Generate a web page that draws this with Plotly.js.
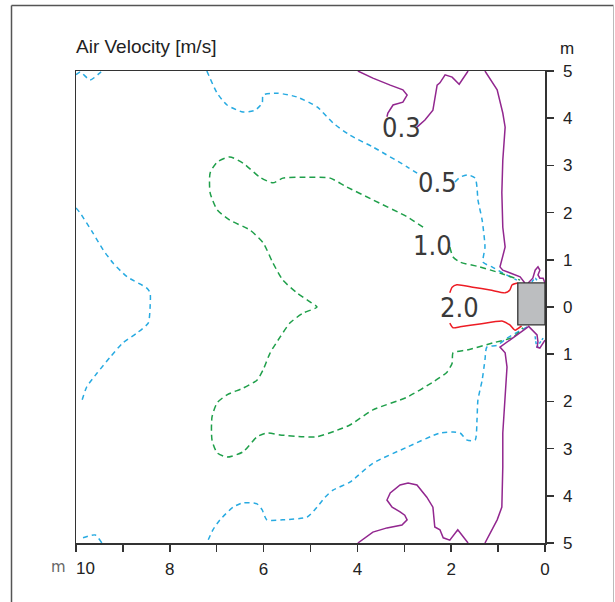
<!DOCTYPE html>
<html>
<head>
<meta charset="utf-8">
<script src="https://cdn.plot.ly/plotly-3.0.1.min.js"></script>
<style>html,body{margin:0;padding:0;background:#fff;}#chart{width:615px;height:602px;}</style>
</head>
<body>
<div id="chart"></div>
<script>
// ---- Data (metres; x = distance from outlet, y = lateral offset) ----
const xTickVals = [0,1,2,3,4,5,6,7,8,9,10];
const xTickText = ['0','','2','','4','','6','','8','',''];
const xEdgeLabel = '10';
const yTickVals = [-5,-4,-3,-2,-1,0,1,2,3,4,5];
const yTickText = ['5','4','3','2','1','0','1','2','3','4','5'];

const levelLabels = ['0.3','0.5','1.0','2.0'];
const labelX = [3.07, 2.30, 2.39, 1.83];
const labelY = [3.81, 2.63, 1.31, -0.02];

// 0.3 m/s (solid purple)
const v03aX = [3.99,3.67,3.30,3.03,2.94,3.03,3.24,3.35,3.37];
const v03aY = [5.0,4.85,4.70,4.60,4.49,4.34,4.28,4.11,4.03];
const v03bX = [2.73,2.56,2.39,2.35,2.30,2.24,2.13,1.98,1.83,1.64];
const v03bY = [3.81,3.96,4.17,4.45,4.70,4.75,4.92,4.87,4.72,5.0];
const v03cX = [1.28,1.02,0.90,0.85,0.90,0.92,0.90,0.85,0.96,0.90,0.53,0.43];
const v03cY = [5.0,4.60,4.11,3.81,3.11,2.42,1.69,1.27,0.85,0.78,0.64,0.51];
const v03dX = [0.36,0.26,0.21,0.15,0.11,0.15,0.11,0.04,0.0];
const v03dY = [0.51,0.61,0.78,0.85,0.78,0.68,0.61,0.61,0.51];
const v03eX = [0.36,0.53,0.75,0.96,0.85,0.81,0.85,0.90,0.90,0.92,1.02,1.17,1.28];
const v03eY = [-0.42,-0.55,-0.70,-0.85,-0.97,-1.27,-1.97,-2.67,-3.39,-4.24,-4.51,-4.79,-5.0];
const v03fX = [0.36,0.26,0.17,0.15,0.17,0.11,0.04,0.0];
const v03fY = [-0.40,-0.49,-0.59,-0.74,-0.85,-0.87,-0.76,-0.70];
const v03gX = [1.64,1.75,1.86,2.03,2.17,2.24,2.35,2.39,2.52,2.73,2.92,3.09,3.30,3.37,3.26,3.09,2.99,2.94,3.05,3.37,3.67,3.99];
const v03gY = [-5.0,-4.87,-4.72,-4.94,-4.89,-4.72,-4.66,-4.24,-4.03,-3.77,-3.73,-3.77,-3.94,-4.09,-4.24,-4.34,-4.41,-4.51,-4.62,-4.68,-4.77,-5.0];

// 0.5 m/s (dashed cyan)
const v05aX = [10.0,9.91,9.70,9.49,9.45];
const v05aY = [4.92,4.98,4.81,4.96,5.0];
const v05bX = [7.21,6.99,6.78,6.44,6.18,6.03,6.01,5.71,5.29,4.86,4.52,4.16,3.67,2.94,2.67];
const v05bY = [5.0,4.53,4.28,4.13,4.17,4.32,4.49,4.53,4.45,4.24,3.90,3.64,3.39,2.97,2.80];
const v05cX = [1.92,1.81,1.64,1.49,1.45,1.43,1.34,1.28,1.32,1.13,0.90,0.60];
const v05cY = [2.65,2.75,2.80,2.73,2.54,2.27,1.84,1.27,0.95,0.85,0.72,0.57];
const v05dX = [0.28,0.21,0.15];
const v05dY = [0.53,0.61,0.53];
const v05eX = [0.38,0.81,1.02,1.24,1.28,1.34,1.43,1.45,1.49,1.66,1.81,1.96,2.24,2.94,3.67,4.16,4.52,4.69,4.86,5.07,5.59,5.93,6.03,6.14,6.44,6.65,6.93,7.08,7.21];
const v05eY = [-0.42,-0.66,-0.81,-0.85,-1.12,-1.55,-1.97,-2.39,-2.82,-2.82,-2.67,-2.65,-2.67,-2.97,-3.31,-3.71,-3.88,-4.03,-4.24,-4.45,-4.51,-4.51,-4.30,-4.17,-4.15,-4.24,-4.51,-4.72,-5.0];
const v05fX = [0.21,0.17,0.11,0.04];
const v05fY = [-0.62,-0.85,-0.76,-0.66];
const v05gX = [9.85,9.59,9.45];
const v05gY = [-4.89,-4.83,-5.0];
const v05hX = [10.0,9.91,9.64,9.42,9.21,8.91,8.49,8.42,8.42,8.46,8.70,9.00,9.27,9.55,9.77,9.87];
const v05hY = [2.10,1.99,1.57,1.21,0.93,0.64,0.40,0.30,0.0,-0.34,-0.55,-0.76,-1.06,-1.40,-1.69,-1.97];

// 1.0 m/s (dashed green)
const v10aX = [2.60,2.94,3.67,4.26,4.58,5.16,5.59,5.80,6.08,6.44,6.72,6.99,7.14,7.14,6.99,6.72,6.29,6.01,5.80,5.59,5.29,5.01,4.86,5.16,5.44,5.65,5.86,6.01,6.14,6.44,6.78,6.99,7.10,7.10,6.99,6.78,6.44,6.14,5.93,5.65,5.16,4.86,4.43,4.16,3.67,2.94,2.39,2.09,1.98,1.96,1.66,1.11,0.68,0.47];
const v10aY = [1.69,1.91,2.27,2.56,2.73,2.75,2.73,2.63,2.75,3.05,3.18,3.07,2.84,2.42,2.06,1.84,1.63,1.36,0.93,0.57,0.30,0.11,0.0,-0.13,-0.34,-0.64,-0.97,-1.33,-1.55,-1.72,-1.86,-2.03,-2.33,-2.82,-3.09,-3.18,-3.07,-2.75,-2.67,-2.71,-2.75,-2.75,-2.61,-2.50,-2.18,-1.91,-1.59,-1.38,-1.19,-0.97,-0.91,-0.76,-0.64,-0.44];
const v10bX = [2.03,1.96,1.81,1.39,0.96,0.53];
const v10bY = [1.27,1.06,0.95,0.85,0.72,0.57];

// 2.0 m/s (solid red)
const v20aX = [2.03,1.98,1.88,1.54,1.17,0.85,0.75,0.70,0.58];
const v20aY = [0.30,0.42,0.47,0.42,0.36,0.30,0.36,0.47,0.51];
const v20bX = [2.03,1.96,1.81,1.39,0.90,0.75,0.64,0.50];
const v20bY = [-0.34,-0.44,-0.42,-0.36,-0.30,-0.38,-0.49,-0.40];

// Air outlet (grey box)
const outletX = [0,0.58,0.58,0,0];
const outletY = [0.51,0.51,-0.38,-0.38,0.51];

// ---- Styles ----
const PURPLE = '#92278F', CYAN = '#27AAE1', GREEN = '#1F9F4A', RED = '#ED1C24';
function seg(x, y, color, dash, shape) {
  return {x: x, y: y, type: 'scatter', mode: 'lines', hoverinfo: 'skip', showlegend: false,
    line: {color: color, width: 1.5, dash: dash || 'solid', shape: shape || 'linear', smoothing: 0.6}};
}
const traces = [
  seg(v05aX, v05aY, CYAN, '5px,4px', 'spline'),
  seg(v05bX, v05bY, CYAN, '5px,4px', 'spline'),
  seg(v05cX, v05cY, CYAN, '5px,4px', 'spline'),
  seg(v05dX, v05dY, CYAN, '3px,2px', 'spline'),
  seg(v05eX, v05eY, CYAN, '5px,4px', 'spline'),
  seg(v05fX, v05fY, CYAN, '3px,2px', 'spline'),
  seg(v05gX, v05gY, CYAN, '5px,4px', 'spline'),
  seg(v05hX, v05hY, CYAN, '5px,4px', 'spline'),
  seg(v10aX, v10aY, GREEN, '6px,4px', 'spline'),
  seg(v10bX, v10bY, GREEN, '6px,4px', 'spline'),
  seg(v03aX, v03aY, PURPLE),
  seg(v03bX, v03bY, PURPLE),
  seg(v03cX, v03cY, PURPLE),
  seg(v03dX, v03dY, PURPLE),
  seg(v03eX, v03eY, PURPLE),
  seg(v03fX, v03fY, PURPLE),
  seg(v03gX, v03gY, PURPLE),
  seg(v20aX, v20aY, RED, 'solid', 'spline'),
  seg(v20bX, v20bY, RED, 'solid', 'spline'),
  {x: outletX, y: outletY, type: 'scatter', mode: 'lines', fill: 'toself', fillcolor: '#BCBEC0',
   line: {color: '#333', width: 1.3}, hoverinfo: 'skip', showlegend: false}
];

const labelFont = {family: '"Liberation Sans Narrow", "DejaVu Sans Condensed", sans-serif', size: 27, color: '#3a3a3a'};
const annotations = levelLabels.map((t, i) => ({
  x: labelX[i], y: labelY[i], xref: 'x', yref: 'y', text: t, showarrow: false,
  font: labelFont, xanchor: 'center', yanchor: 'middle'
}));
const tickFont = {family: 'Liberation Sans, Arial, sans-serif', size: 17, color: '#222'};
annotations.push({xref: 'paper', yref: 'paper', x: (85-76)/469, y: (543-568)/472, text: xEdgeLabel, showarrow: false,
  font: tickFont, xanchor: 'center', yanchor: 'middle'});
annotations.push({xref: 'paper', yref: 'paper', x: (567-76)/469, y: (543-48)/472, text: 'm', showarrow: false,
  font: {family: 'Liberation Sans, Arial, sans-serif', size: 17, color: '#222'}, xanchor: 'center', yanchor: 'middle'});
annotations.push({xref: 'paper', yref: 'paper', x: (58-76)/469, y: (543-567)/472, text: 'm', showarrow: false,
  font: {family: 'DejaVu Sans, sans-serif', size: 15, color: '#666'}, xanchor: 'center', yanchor: 'middle'});

const frameColor = '#555';
const shapes = [
  {type: 'line', xref: 'paper', yref: 'paper', x0: (11.5-76)/469, x1: (11.5-76)/469, y0: (543-5.5)/472, y1: (543-610)/472, line: {color: frameColor, width: 1.5}},
  {type: 'line', xref: 'paper', yref: 'paper', x0: (11.5-76)/469, x1: (613.5-76)/469, y0: (543-5.5)/472, y1: (543-5.5)/472, line: {color: frameColor, width: 1.5}},
  {type: 'line', xref: 'paper', yref: 'paper', x0: (613.5-76)/469, x1: (613.5-76)/469, y0: (543-5.5)/472, y1: (543-610)/472, line: {color: '#bbb', width: 1}}
];

const layout = {
  width: 615, height: 602,
  margin: {l: 76, r: 70, t: 71, b: 59},
  paper_bgcolor: '#fff', plot_bgcolor: '#fff',
  showlegend: false,
  title: {text: 'Air Velocity [m/s]', x: 76/615, xanchor: 'left', y: 1 - 46/602, yanchor: 'middle',
    font: {family: 'Liberation Sans, Arial, sans-serif', size: 19, color: '#222'}},
  xaxis: {range: [10, 0], tickvals: xTickVals, ticktext: xTickText, ticks: 'outside', ticklen: 7, tickwidth: 1.5,
    tickcolor: '#333', showline: true, linecolor: '#333', linewidth: 1.5, mirror: true, showgrid: false,
    zeroline: false, tickfont: tickFont, ticklabelstandoff: 3, fixedrange: true},
  yaxis: {range: [-5, 5], side: 'right', tickvals: yTickVals, ticktext: yTickText, ticks: 'outside', ticklen: 7,
    tickwidth: 1.5, tickcolor: '#333', showline: true, linecolor: '#333', linewidth: 1.5, mirror: true,
    showgrid: false, zeroline: false, tickfont: tickFont, ticklabelstandoff: 6, fixedrange: true},
  annotations: annotations,
  shapes: shapes
};
Plotly.newPlot('chart', traces, layout, {staticPlot: true, displayModeBar: false});
</script>
</body>
</html>
